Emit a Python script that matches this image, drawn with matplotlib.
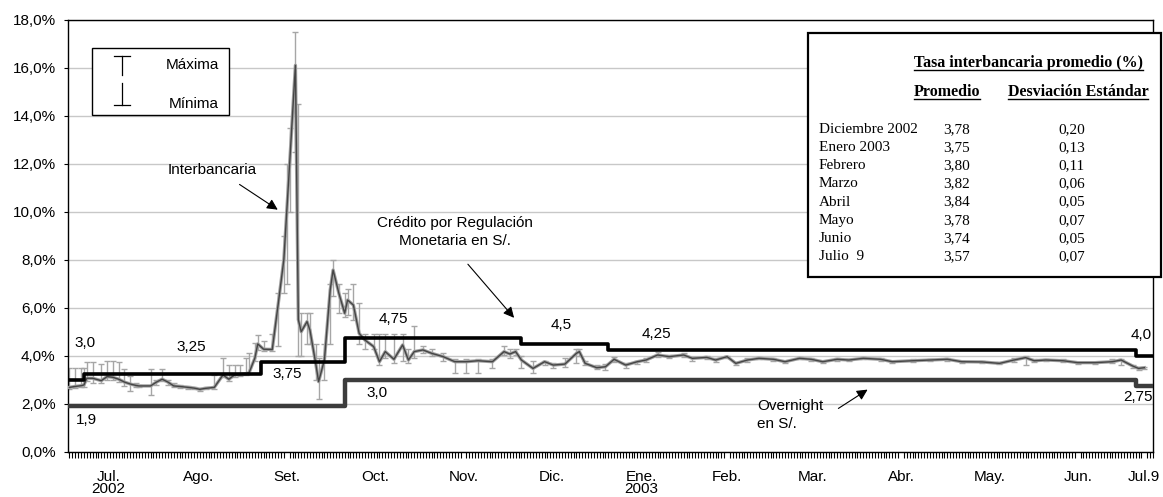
import numpy as np
import matplotlib.pyplot as plt
from matplotlib.patches import Rectangle
from matplotlib.lines import Line2D

plt.rcParams['font.family'] = ['Liberation Sans', 'DejaVu Sans']

# dias contados desde el 1 de julio de 2002
dias = [2, 4, 6, 7, 8, 10, 13, 15, 17, 19, 21, 23, 25, 26, 30,
        32, 34, 36, 38, 40, 43, 45, 47, 49, 52, 55, 57, 59, 61,
        63, 64, 66, 67, 69, 72, 74, 76, 77, 78, 80, 81, 82, 84, 85, 87, 88, 90,
        92, 93, 95, 97, 98, 100, 102, 104, 107, 109, 111, 114, 117, 119, 121,
        124, 127, 131, 135, 139, 143, 148, 152, 154, 156, 158, 162, 166, 169,
        173, 177, 178, 180, 184, 187, 190, 194, 198, 201, 205, 209, 214, 217,
        222, 225, 229, 232, 236, 240, 245, 249, 254, 258, 262, 267, 271, 276,
        282, 286, 293, 299, 305, 310, 317, 323, 328, 332, 335, 339, 345, 350,
        356, 362, 365, 369, 371, 373]
tasa = [2.68, 2.72, 2.75, 2.78, 3.06, 3.06, 2.96, 3.13, 3.10, 3.02, 2.90, 2.82, 2.76, 2.74, 2.74,
        2.90, 3.02, 2.90, 2.74, 2.72, 2.68, 2.65, 2.60, 2.64, 2.68, 3.20, 3.02, 3.20, 3.22,
        3.25, 3.29, 3.90, 4.49, 4.27, 4.26, 6.10, 8.00, 10.0, 12.0, 16.1, 5.50, 5.00, 5.42, 5.07, 3.68, 2.92, 3.82,
        6.74, 7.57, 6.60, 5.77, 6.32, 6.11, 4.93, 4.65, 4.38, 3.75, 4.17, 3.85, 4.45, 3.82, 4.17,
        4.24, 4.10, 3.96, 3.75, 3.75, 3.79, 3.75, 4.17, 4.07, 4.17, 3.82, 3.47, 3.75, 3.61,
        3.65, 4.10, 4.17, 3.68, 3.50, 3.54, 3.85, 3.61, 3.75, 3.82, 4.03, 3.96, 4.03, 3.89,
        3.93, 3.82, 3.96, 3.68, 3.82, 3.89, 3.85, 3.75, 3.89, 3.85, 3.75, 3.85, 3.82, 3.89,
        3.85, 3.75, 3.79, 3.82, 3.85, 3.75, 3.74, 3.68, 3.82, 3.92, 3.79, 3.82, 3.79, 3.71,
        3.71, 3.75, 3.82, 3.57, 3.47, 3.50]
maxima = [3.47, 3.47, 3.47, 3.47, 3.72, 3.72, 3.65, 3.78, 3.80, 3.72, 3.45, 3.15, 2.85, 2.80, 3.45,
          3.00, 3.45, 3.00, 2.85, 2.80, 2.75, 2.70, 2.65, 2.70, 3.19, 3.89, 3.60, 3.60, 3.62,
          3.89, 4.10, 4.52, 4.86, 4.60, 4.90, 6.60, 9.00, 12.0, 13.5, 17.5, 14.5, 5.80, 5.77, 5.77, 4.50, 3.90, 4.50,
          7.00, 8.00, 7.00, 6.60, 6.80, 7.00, 6.20, 4.90, 4.90, 4.90, 4.90, 4.90, 4.90, 4.30, 5.24,
          4.40, 4.30, 4.10, 3.85, 3.85, 3.85, 3.85, 4.40, 4.30, 4.30, 4.00, 3.80, 3.80, 3.70,
          3.90, 4.30, 4.30, 3.80, 3.60, 3.65, 3.95, 3.70, 3.80, 3.90, 4.15, 4.05, 4.10, 3.95,
          4.00, 3.90, 4.00, 3.75, 3.90, 3.95, 3.90, 3.80, 3.95, 3.90, 3.80, 3.90, 3.88, 3.95,
          3.90, 3.80, 3.85, 3.88, 3.90, 3.80, 3.80, 3.75, 3.90, 4.00, 3.85, 3.88, 3.85, 3.75,
          3.75, 3.85, 3.88, 3.62, 3.55, 3.55]
minima = [2.62, 2.65, 2.68, 2.70, 2.95, 2.85, 2.85, 3.00, 3.00, 2.90, 2.75, 2.54, 2.70, 2.70, 2.38,
          2.80, 2.95, 2.80, 2.70, 2.65, 2.62, 2.60, 2.55, 2.60, 2.62, 3.10, 2.95, 3.10, 3.15,
          3.20, 3.25, 3.80, 4.24, 4.20, 4.20, 4.40, 6.60, 7.00, 10.0, 12.5, 4.00, 4.00, 4.50, 4.50, 3.00, 2.20, 3.00,
          4.50, 6.50, 5.80, 5.60, 5.70, 5.50, 4.50, 4.30, 4.30, 3.60, 3.90, 3.70, 3.80, 3.70, 3.90,
          4.10, 4.00, 3.80, 3.28, 3.30, 3.30, 3.50, 4.05, 3.90, 4.05, 3.50, 3.30, 3.60, 3.50,
          3.55, 3.70, 4.00, 3.60, 3.45, 3.40, 3.75, 3.50, 3.65, 3.75, 3.95, 3.90, 3.95, 3.80,
          3.85, 3.75, 3.90, 3.60, 3.75, 3.85, 3.80, 3.70, 3.85, 3.80, 3.70, 3.80, 3.78, 3.85,
          3.80, 3.70, 3.75, 3.78, 3.80, 3.70, 3.70, 3.65, 3.75, 3.60, 3.75, 3.78, 3.75, 3.65,
          3.65, 3.70, 3.60, 3.50, 3.42, 3.45]

# tasas de referencia (escalones)
credito_dias = [0, 7, 68, 97, 158, 188, 370, 377]
credito_tasa = [3.0, 3.25, 3.75, 4.75, 4.5, 4.25, 4.0, 4.0]
overnight_dias = [0, 97, 370, 377]
overnight_tasa = [1.9, 3.0, 2.75, 2.75]

meses = ['Jul.\n2002', 'Ago.', 'Set.', 'Oct.', 'Nov.', 'Dic.', 'Ene.\n2003',
         'Feb.', 'Mar.', 'Abr.', 'May.', 'Jun.', 'Jul.9']
meses_pos = [15.5, 46.5, 77, 107.5, 138, 168.5, 199.5, 229, 258.5, 289, 319.5, 350, 373]

# cuadro de promedios
tabla_meses = ['Diciembre 2002', 'Enero 2003', 'Febrero', 'Marzo', 'Abril',
               'Mayo', 'Junio', 'Julio  9']
tabla_prom = [3.78, 3.75, 3.80, 3.82, 3.84, 3.78, 3.74, 3.57]
tabla_desv = [0.20, 0.13, 0.11, 0.06, 0.05, 0.07, 0.05, 0.07]

W, H = 1163, 497
fig = plt.figure(figsize=(W / 100, H / 100), dpi=100)
ax = fig.add_axes([68 / W, 1 - 451.7 / H, (1153 - 68) / W, (451.7 - 19.7) / H])


def px(x, y):
    return x / W, 1 - y / H


tasa = np.array(tasa)
err = [tasa - np.array(minima), np.array(maxima) - tasa]
ax.errorbar(dias, tasa, yerr=err, fmt='none', ecolor='#a6a6a6', elinewidth=1,
            capsize=2.5, capthick=1, zorder=2)
ax.plot(dias, tasa, color='#a0a0a0', lw=2.4, zorder=3)
ax.plot(dias, tasa, color='#454545', lw=1.0, zorder=4)

ax.plot(credito_dias, credito_tasa, drawstyle='steps-post', color='black', lw=2.6, zorder=5)
ax.plot(overnight_dias, overnight_tasa, drawstyle='steps-post', color='#3c3c3c', lw=3.2, zorder=5)

ax.set_xlim(1.5, 376)
ax.set_ylim(0, 18)
ax.set_yticks(np.arange(0, 19, 2))
ax.set_yticklabels([f'{v:.1f}%'.replace('.', ',') for v in np.arange(0, 19, 2)])
ax.yaxis.grid(True, color='#c8c8c8', lw=1)
ax.set_axisbelow(True)
ax.tick_params(axis='y', length=3, labelsize=11, pad=6)

ax.set_xticks(meses_pos)
ax.set_xticklabels(meses, linespacing=0.88)
ax.set_xticks(np.arange(2, 377), minor=True)
ax.tick_params(axis='x', which='major', length=0, labelsize=11, pad=13)
ax.tick_params(axis='x', which='minor', length=4, width=0.8)
for s in ax.spines.values():
    s.set_color('black')
    s.set_linewidth(1)

# etiquetas de los escalones
etiquetas = [('3,0', 7.4, 4.53), ('3,25', 44.2, 4.38), ('3,75', 77, 3.24),
             ('1,9', 8, 1.32), ('4,75', 113.7, 5.53), ('3,0', 108, 2.45),
             ('4,5', 171.9, 5.28), ('4,25', 204.7, 4.9), ('4,0', 372, 4.86),
             ('2,75', 370.8, 2.28)]
for t, x, y in etiquetas:
    ax.text(x, y, t, ha='center', va='center', fontsize=11)

flecha = dict(arrowstyle='-|>', color='black', lw=0.8, mutation_scale=16)
ax.text(51.3, 11.74, 'Interbancaria', ha='center', va='center', fontsize=11)
ax.annotate('', xy=(74.7, 10.02), xytext=(59.9, 11.2), arrowprops=flecha)
ax.text(135.1, 9.15, 'Crédito por Regulación\nMonetaria en S/.', ha='center',
        va='center', fontsize=11, linespacing=1.35)
ax.annotate('', xy=(156.1, 5.49), xytext=(138.9, 7.9), arrowprops=flecha)
ax.text(239.3, 1.53, 'Overnight\nen S/.', ha='left', va='center', fontsize=11,
        linespacing=1.35)
ax.annotate('', xy=(278.3, 2.65), xytext=(266.6, 1.74), arrowprops=flecha)

# leyenda maxima / minima
x0, y0 = px(92, 115)
x1, y1 = px(229, 48)
fig.add_artist(Rectangle((x0, y0), x1 - x0, y1 - y0, transform=fig.transFigure,
                         facecolor='white', edgecolor='black', lw=1, zorder=5))
for (xa, ya), (xb, yb) in [((122, 55.7), (122, 75)), ((114, 55.7), (130, 55.7)),
                           ((122, 83), (122, 104.7)), ((114, 104.7), (130, 104.7))]:
    a, b = px(xa, ya), px(xb, yb)
    fig.add_artist(Line2D([a[0], b[0]], [a[1], b[1]], color='black', lw=0.9, zorder=6))
fig.text(*px(192, 65), 'Máxima', ha='center', va='center', fontsize=11, zorder=6)
fig.text(*px(194, 104), 'Mínima', ha='center', va='center', fontsize=11, zorder=6)

# cuadro de la tasa interbancaria promedio
x0, y0 = px(808, 277)
x1, y1 = px(1161, 33)
fig.add_artist(Rectangle((x0, y0), x1 - x0, y1 - y0, transform=fig.transFigure,
                         facecolor='white', edgecolor='black', lw=1.6, zorder=5))
serif = ['Liberation Serif', 'DejaVu Serif']
titulos = [fig.text(*px(1028, 63), 'Tasa interbancaria promedio (%)', ha='center',
                    va='center', fontsize=11.5, fontweight='bold', family=serif, zorder=6),
           fig.text(*px(947, 92), 'Promedio', ha='center', va='center', fontsize=11.5,
                    fontweight='bold', family=serif, zorder=6),
           fig.text(*px(1078, 92), 'Desviación Estándar', ha='center', va='center',
                    fontsize=11.5, fontweight='bold', family=serif, zorder=6)]
for i, (m, p, d) in enumerate(zip(tabla_meses, tabla_prom, tabla_desv)):
    yy = 129.3 + i * 18.2
    fig.text(*px(819, yy), m, ha='left', va='center', fontsize=11, family=serif, zorder=6)
    fig.text(*px(943, yy), f'{p:.2f}'.replace('.', ','), ha='left', va='center',
             fontsize=11, family=serif, zorder=6)
    fig.text(*px(1058, yy), f'{d:.2f}'.replace('.', ','), ha='left', va='center',
             fontsize=11, family=serif, zorder=6)

# subrayado de los titulos del cuadro
fig.canvas.draw()
r = fig.canvas.get_renderer()
for t in titulos:
    bb = t.get_window_extent(r).transformed(fig.transFigure.inverted())
    yl = bb.y0 + 0.6 / H
    fig.add_artist(Line2D([bb.x0, bb.x1], [yl, yl], color='black', lw=1, zorder=6))

fig.savefig('out.png', dpi=100)
